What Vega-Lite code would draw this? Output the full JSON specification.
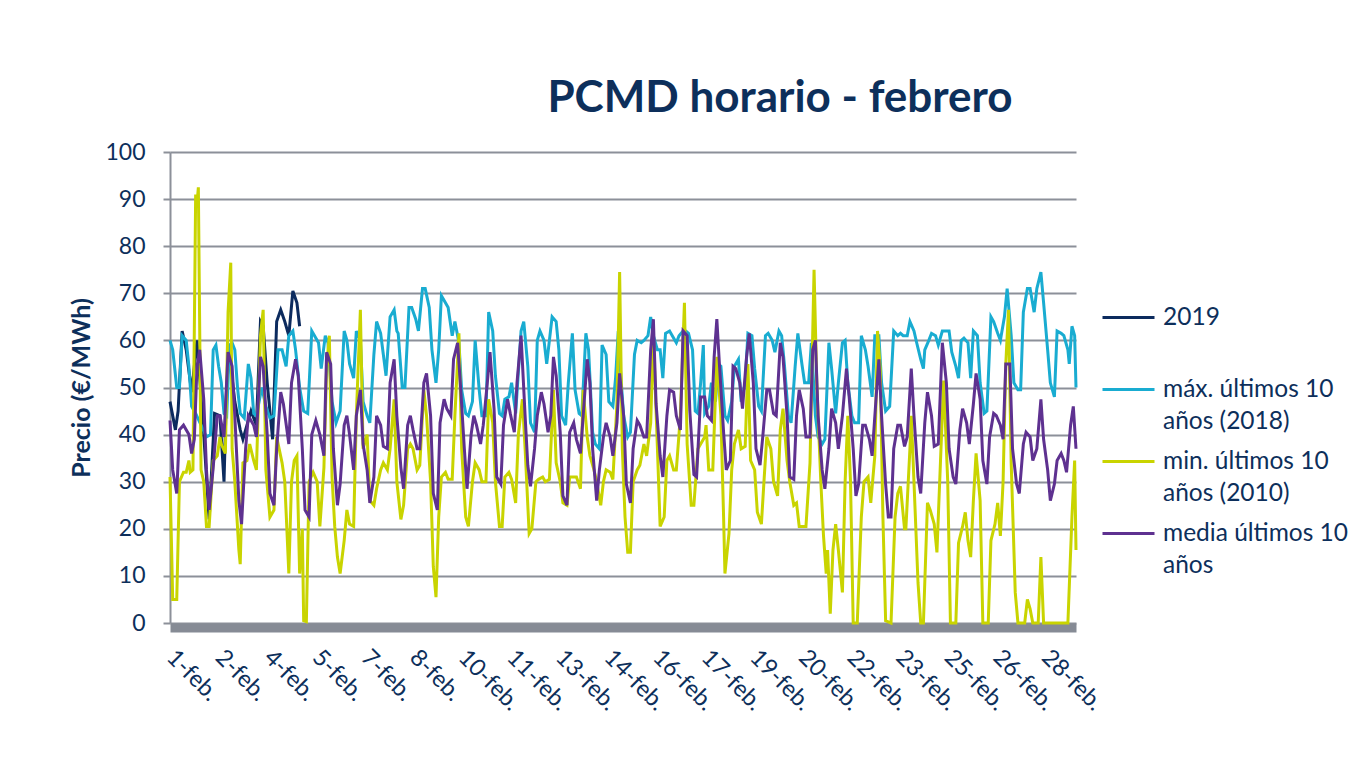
{
"$schema":"https://vega.github.io/schema/vega-lite/v6.json",
"width":906,"height":471,
"autosize":{"type":"none"},
"padding":{"left":170,"top":152,"right":286,"bottom":146},
"background":"#ffffff",
"config":{"font":"Lato","view":{"stroke":null}},
"title":{"text":"PCMD horario - febrero","fontSize":44,"fontWeight":"bold","color":"#0d2f5b","anchor":"middle","frame":"group","dx":157,"dy":41,"offset":26,"baseline":"alphabetic"},
"datasets":{
"y2019":[{"h":0,"v":47},{"h":4,"v":41},{"h":6,"v":45},{"h":9,"v":62},{"h":12,"v":58},{"h":16,"v":49},{"h":20,"v":60},{"h":25,"v":40},{"h":29,"v":22},{"h":33,"v":44.5},{"h":37,"v":44},{"h":40,"v":30},{"h":42,"v":51},{"h":44,"v":57},{"h":48,"v":47},{"h":52,"v":41},{"h":54,"v":39},{"h":57,"v":42},{"h":60,"v":45},{"h":64,"v":42},{"h":67,"v":64},{"h":69,"v":63},{"h":72,"v":51},{"h":76,"v":39},{"h":79,"v":64},{"h":82,"v":66.5},{"h":85,"v":64},{"h":88,"v":61},{"h":91,"v":70.5},{"h":94,"v":68},{"h":96,"v":63}],
"max":[{"h":0,"v":60},{"h":2,"v":58},{"h":5,"v":50},{"h":7,"v":50},{"h":9,"v":61},{"h":12,"v":60},{"h":14,"v":54.5},{"h":16,"v":46},{"h":19,"v":44.5},{"h":23,"v":42},{"h":27,"v":39.5},{"h":30,"v":40},{"h":32,"v":58},{"h":34,"v":59},{"h":36,"v":54.5},{"h":38,"v":51},{"h":40,"v":44.5},{"h":42,"v":44},{"h":44,"v":59},{"h":46,"v":59.5},{"h":48,"v":58},{"h":50,"v":50},{"h":52,"v":44.5},{"h":55,"v":43.5},{"h":58,"v":55},{"h":60,"v":52},{"h":62,"v":44.5},{"h":64,"v":44},{"h":68,"v":50},{"h":71,"v":46},{"h":74,"v":43.5},{"h":77,"v":44},{"h":80,"v":58},{"h":83,"v":58},{"h":86,"v":54.5},{"h":88,"v":61},{"h":91,"v":62},{"h":93,"v":58},{"h":96,"v":50},{"h":99,"v":45},{"h":102,"v":44.5},{"h":105,"v":62},{"h":110,"v":59.5},{"h":112,"v":54},{"h":115,"v":61},{"h":117,"v":59.5},{"h":120,"v":47},{"h":123,"v":42.5},{"h":126,"v":45},{"h":129,"v":62},{"h":131,"v":60},{"h":133,"v":55},{"h":136,"v":52},{"h":138,"v":62},{"h":141,"v":60},{"h":143,"v":47},{"h":146,"v":44},{"h":148,"v":42.5},{"h":151,"v":57},{"h":153,"v":64},{"h":156,"v":61.5},{"h":158,"v":57},{"h":160,"v":52.5},{"h":163,"v":65},{"h":166,"v":66.5},{"h":168,"v":62},{"h":169,"v":61.5},{"h":172,"v":50},{"h":174,"v":50},{"h":177,"v":67},{"h":179,"v":67},{"h":182,"v":64.5},{"h":184,"v":62},{"h":187,"v":71},{"h":189,"v":71},{"h":192,"v":67},{"h":194,"v":58},{"h":197,"v":51},{"h":199,"v":58},{"h":201,"v":69.5},{"h":204,"v":68},{"h":206,"v":67},{"h":209,"v":61},{"h":211,"v":64},{"h":214,"v":59.5},{"h":216,"v":49.5},{"h":219,"v":44.5},{"h":221,"v":44},{"h":224,"v":47},{"h":226,"v":60},{"h":229,"v":49.5},{"h":231,"v":44},{"h":234,"v":44},{"h":236,"v":66},{"h":239,"v":62},{"h":241,"v":52.5},{"h":244,"v":44.5},{"h":246,"v":44},{"h":248,"v":47.5},{"h":251,"v":48},{"h":253,"v":51},{"h":256,"v":44.5},{"h":260,"v":62},{"h":262,"v":64},{"h":265,"v":54.5},{"h":267,"v":42.5},{"h":270,"v":40.5},{"h":272,"v":60},{"h":274,"v":62},{"h":277,"v":60},{"h":279,"v":55},{"h":283,"v":65},{"h":286,"v":64},{"h":288,"v":58},{"h":290,"v":44},{"h":293,"v":42},{"h":295,"v":51},{"h":298,"v":61.5},{"h":300,"v":49.5},{"h":303,"v":44.5},{"h":305,"v":44},{"h":308,"v":61.5},{"h":310,"v":58},{"h":313,"v":40.5},{"h":315,"v":38},{"h":318,"v":37},{"h":320,"v":59},{"h":323,"v":57},{"h":325,"v":47},{"h":328,"v":46},{"h":330,"v":52},{"h":332,"v":62},{"h":334,"v":52},{"h":336,"v":44},{"h":339,"v":39.5},{"h":341,"v":40.5},{"h":344,"v":57},{"h":346,"v":60},{"h":349,"v":59.5},{"h":351,"v":60},{"h":354,"v":61},{"h":356,"v":65},{"h":358,"v":61},{"h":361,"v":58},{"h":363,"v":58},{"h":365,"v":52},{"h":367,"v":61.5},{"h":370,"v":62},{"h":372,"v":61},{"h":375,"v":59.5},{"h":377,"v":61},{"h":380,"v":62},{"h":382,"v":62},{"h":384,"v":61.5},{"h":387,"v":58},{"h":389,"v":45},{"h":391,"v":44.5},{"h":393,"v":51},{"h":395,"v":59},{"h":396,"v":44.5},{"h":399,"v":46},{"h":401,"v":51},{"h":404,"v":47},{"h":406,"v":55},{"h":408,"v":54.5},{"h":411,"v":44},{"h":413,"v":43},{"h":416,"v":47},{"h":418,"v":54.5},{"h":421,"v":56},{"h":423,"v":47},{"h":426,"v":51},{"h":428,"v":61.5},{"h":431,"v":61},{"h":433,"v":54},{"h":436,"v":46},{"h":438,"v":45},{"h":441,"v":61},{"h":443,"v":61.5},{"h":446,"v":60},{"h":448,"v":57.5},{"h":451,"v":62},{"h":453,"v":61},{"h":455,"v":55},{"h":458,"v":44},{"h":460,"v":42.5},{"h":463,"v":54.5},{"h":465,"v":61.5},{"h":468,"v":55},{"h":470,"v":51},{"h":473,"v":51},{"h":475,"v":59.5},{"h":478,"v":44},{"h":480,"v":39.5},{"h":483,"v":38},{"h":485,"v":39},{"h":488,"v":59.5},{"h":490,"v":54},{"h":493,"v":44.5},{"h":495,"v":51},{"h":498,"v":59.5},{"h":500,"v":60},{"h":502,"v":51},{"h":505,"v":44},{"h":507,"v":42.5},{"h":510,"v":42.5},{"h":512,"v":61},{"h":515,"v":58},{"h":517,"v":54.5},{"h":520,"v":48},{"h":522,"v":61},{"h":525,"v":61},{"h":527,"v":51},{"h":530,"v":45},{"h":533,"v":46},{"h":536,"v":62},{"h":539,"v":61},{"h":541,"v":61.5},{"h":543,"v":61},{"h":546,"v":61},{"h":548,"v":64},{"h":551,"v":62},{"h":553,"v":59.5},{"h":556,"v":56},{"h":558,"v":54},{"h":559,"v":58},{"h":562,"v":60},{"h":564,"v":61.5},{"h":567,"v":61},{"h":569,"v":59},{"h":572,"v":62},{"h":574,"v":62},{"h":577,"v":62},{"h":579,"v":57.5},{"h":582,"v":54.5},{"h":584,"v":52},{"h":586,"v":60},{"h":588,"v":60.5},{"h":591,"v":59.5},{"h":593,"v":52},{"h":595,"v":62},{"h":598,"v":61},{"h":600,"v":51},{"h":603,"v":44.5},{"h":605,"v":45},{"h":608,"v":65},{"h":610,"v":64},{"h":613,"v":61.5},{"h":615,"v":60},{"h":618,"v":65},{"h":620,"v":71},{"h":623,"v":61},{"h":625,"v":51},{"h":628,"v":49.5},{"h":630,"v":49.5},{"h":632,"v":66},{"h":635,"v":71},{"h":637,"v":71},{"h":640,"v":66},{"h":642,"v":71},{"h":645,"v":74.5},{"h":647,"v":68},{"h":650,"v":58},{"h":652,"v":51},{"h":655,"v":48},{"h":657,"v":62},{"h":660,"v":61.5},{"h":662,"v":61},{"h":665,"v":58},{"h":666,"v":55},{"h":668,"v":63},{"h":670,"v":61},{"h":671,"v":50}],
"min":[{"h":0,"v":31},{"h":2,"v":5},{"h":5,"v":5},{"h":7,"v":30},{"h":10,"v":32},{"h":12,"v":32},{"h":14,"v":34.5},{"h":15,"v":32},{"h":17,"v":32.5},{"h":19,"v":91},{"h":20,"v":89},{"h":21,"v":92.5},{"h":23,"v":32.5},{"h":25,"v":30},{"h":27,"v":20.5},{"h":29,"v":20.5},{"h":32,"v":34.5},{"h":35,"v":35.5},{"h":37,"v":39.5},{"h":38,"v":38},{"h":41,"v":36},{"h":43,"v":66},{"h":45,"v":76.5},{"h":46,"v":37},{"h":48,"v":30},{"h":51,"v":15.5},{"h":52,"v":12.5},{"h":54,"v":34},{"h":57,"v":34.5},{"h":59,"v":38},{"h":62,"v":34.5},{"h":64,"v":32.5},{"h":67,"v":61},{"h":69,"v":66.5},{"h":71,"v":32.5},{"h":74,"v":22.5},{"h":77,"v":24},{"h":79,"v":39.5},{"h":83,"v":34},{"h":85,"v":30},{"h":88,"v":10.5},{"h":90,"v":30},{"h":92,"v":34.5},{"h":94,"v":35.5},{"h":96,"v":10.5},{"h":98,"v":20},{"h":99,"v":0.5},{"h":101,"v":0.3},{"h":103,"v":30},{"h":106,"v":32},{"h":109,"v":30},{"h":111,"v":20.5},{"h":114,"v":33},{"h":116,"v":54.5},{"h":118,"v":61},{"h":120,"v":31},{"h":122,"v":20.5},{"h":124,"v":14},{"h":126,"v":10.5},{"h":129,"v":17.5},{"h":131,"v":24},{"h":133,"v":21},{"h":136,"v":20.5},{"h":138,"v":44},{"h":141,"v":66.5},{"h":143,"v":37},{"h":146,"v":40},{"h":148,"v":26},{"h":151,"v":25},{"h":153,"v":28.5},{"h":156,"v":32.5},{"h":158,"v":34},{"h":161,"v":32.5},{"h":163,"v":37},{"h":166,"v":47.5},{"h":168,"v":30},{"h":171,"v":22},{"h":173,"v":25},{"h":176,"v":37},{"h":178,"v":38},{"h":180,"v":37},{"h":183,"v":32.5},{"h":185,"v":33.5},{"h":188,"v":49.5},{"h":190,"v":44},{"h":193,"v":30},{"h":195,"v":12},{"h":197,"v":5.5},{"h":199,"v":22.5},{"h":201,"v":31},{"h":204,"v":32},{"h":206,"v":30.5},{"h":209,"v":30.5},{"h":211,"v":44},{"h":214,"v":61.5},{"h":216,"v":37},{"h":219,"v":22.5},{"h":221,"v":20.5},{"h":224,"v":30},{"h":226,"v":34},{"h":229,"v":32.5},{"h":231,"v":30},{"h":234,"v":30},{"h":236,"v":47.5},{"h":239,"v":42.5},{"h":241,"v":30},{"h":244,"v":20.5},{"h":246,"v":20.5},{"h":248,"v":31},{"h":251,"v":32},{"h":253,"v":30.5},{"h":256,"v":25.5},{"h":258,"v":40},{"h":261,"v":47.5},{"h":263,"v":37},{"h":266,"v":19},{"h":268,"v":20},{"h":271,"v":30},{"h":273,"v":30.5},{"h":276,"v":31},{"h":278,"v":30},{"h":281,"v":30.5},{"h":284,"v":49.5},{"h":286,"v":34},{"h":289,"v":30},{"h":291,"v":25.5},{"h":294,"v":25},{"h":296,"v":31},{"h":299,"v":31},{"h":301,"v":31},{"h":304,"v":28.5},{"h":306,"v":49.5},{"h":309,"v":39.5},{"h":311,"v":35.5},{"h":314,"v":32.5},{"h":316,"v":30},{"h":319,"v":25},{"h":321,"v":30},{"h":323,"v":32.5},{"h":326,"v":32},{"h":328,"v":30.5},{"h":331,"v":46.5},{"h":333,"v":74.5},{"h":335,"v":37},{"h":337,"v":22.5},{"h":339,"v":15},{"h":341,"v":15},{"h":343,"v":30},{"h":346,"v":32.5},{"h":348,"v":33.5},{"h":351,"v":38},{"h":353,"v":35.5},{"h":356,"v":42.5},{"h":358,"v":61},{"h":361,"v":37},{"h":363,"v":20.5},{"h":366,"v":22.5},{"h":368,"v":34.5},{"h":370,"v":35.5},{"h":373,"v":32.5},{"h":375,"v":32.5},{"h":378,"v":44},{"h":381,"v":68},{"h":383,"v":38},{"h":386,"v":25},{"h":388,"v":25},{"h":391,"v":37},{"h":393,"v":38},{"h":396,"v":39.5},{"h":397,"v":42},{"h":399,"v":32.5},{"h":402,"v":32.5},{"h":405,"v":56.5},{"h":408,"v":44},{"h":410,"v":22.5},{"h":411,"v":10.5},{"h":414,"v":19},{"h":416,"v":32.5},{"h":418,"v":38},{"h":421,"v":41},{"h":423,"v":37},{"h":426,"v":37.5},{"h":428,"v":55},{"h":430,"v":34.5},{"h":433,"v":32.5},{"h":435,"v":23.5},{"h":438,"v":21},{"h":440,"v":30.5},{"h":442,"v":39.5},{"h":445,"v":37},{"h":447,"v":30},{"h":450,"v":27},{"h":452,"v":41},{"h":454,"v":45.5},{"h":457,"v":34.5},{"h":459,"v":30},{"h":462,"v":25},{"h":464,"v":25.5},{"h":466,"v":20.5},{"h":469,"v":20.5},{"h":471,"v":20.5},{"h":474,"v":34},{"h":477,"v":75},{"h":479,"v":51},{"h":482,"v":30},{"h":484,"v":18.5},{"h":486,"v":10.5},{"h":487,"v":15.5},{"h":489,"v":2},{"h":491,"v":15.5},{"h":493,"v":21},{"h":495,"v":15.5},{"h":498,"v":6.5},{"h":500,"v":30},{"h":502,"v":44},{"h":504,"v":30},{"h":506,"v":0},{"h":509,"v":0},{"h":512,"v":22.5},{"h":514,"v":30},{"h":517,"v":31},{"h":519,"v":25.5},{"h":522,"v":35.5},{"h":524,"v":62},{"h":526,"v":54},{"h":528,"v":22.5},{"h":530,"v":0.5},{"h":534,"v":0},{"h":537,"v":22.5},{"h":539,"v":27.5},{"h":541,"v":29},{"h":544,"v":20},{"h":545,"v":20},{"h":548,"v":37},{"h":549,"v":44},{"h":551,"v":30},{"h":554,"v":8.5},{"h":556,"v":0},{"h":558,"v":0},{"h":561,"v":25.5},{"h":563,"v":24},{"h":566,"v":21},{"h":568,"v":15},{"h":571,"v":37},{"h":573,"v":51.5},{"h":576,"v":30},{"h":578,"v":0},{"h":582,"v":0},{"h":584,"v":17},{"h":587,"v":20.5},{"h":589,"v":23.5},{"h":591,"v":17.5},{"h":593,"v":14},{"h":595,"v":26},{"h":597,"v":36},{"h":600,"v":26},{"h":602,"v":0},{"h":606,"v":0},{"h":608,"v":17.5},{"h":611,"v":21},{"h":613,"v":25.5},{"h":615,"v":18.5},{"h":617,"v":30},{"h":619,"v":55},{"h":621,"v":66.5},{"h":623,"v":34},{"h":626,"v":6.5},{"h":628,"v":0},{"h":633,"v":0},{"h":635,"v":5},{"h":637,"v":3},{"h":639,"v":0},{"h":643,"v":0},{"h":645,"v":14},{"h":647,"v":0},{"h":665,"v":0},{"h":668,"v":22.5},{"h":670,"v":34.5},{"h":671,"v":15.5}],
"media":[{"h":0,"v":43},{"h":2,"v":32.5},{"h":5,"v":27.5},{"h":7,"v":41},{"h":10,"v":42},{"h":14,"v":40},{"h":16,"v":36},{"h":18,"v":39},{"h":20,"v":54.5},{"h":22,"v":58},{"h":25,"v":47.5},{"h":27,"v":32.5},{"h":29,"v":24},{"h":32,"v":33},{"h":35,"v":44},{"h":37,"v":44},{"h":40,"v":39.5},{"h":43,"v":57.5},{"h":46,"v":54.5},{"h":48,"v":44},{"h":51,"v":26},{"h":53,"v":21},{"h":56,"v":37},{"h":58,"v":44},{"h":62,"v":42},{"h":64,"v":39.5},{"h":67,"v":56.5},{"h":69,"v":54.5},{"h":72,"v":40},{"h":74,"v":27.5},{"h":77,"v":25},{"h":79,"v":37},{"h":82,"v":49},{"h":84,"v":46.5},{"h":88,"v":38},{"h":90,"v":51},{"h":93,"v":56},{"h":95,"v":52.5},{"h":98,"v":37},{"h":100,"v":24},{"h":103,"v":22.5},{"h":105,"v":40},{"h":108,"v":43},{"h":111,"v":40},{"h":114,"v":35.5},{"h":116,"v":57.5},{"h":119,"v":55},{"h":121,"v":37},{"h":124,"v":25},{"h":126,"v":29.5},{"h":129,"v":42},{"h":131,"v":44},{"h":133,"v":40},{"h":136,"v":32.5},{"h":138,"v":44},{"h":141,"v":49.5},{"h":143,"v":38},{"h":146,"v":32.5},{"h":148,"v":25.5},{"h":151,"v":31},{"h":153,"v":44},{"h":156,"v":42},{"h":158,"v":37.5},{"h":161,"v":37},{"h":163,"v":51},{"h":166,"v":56},{"h":168,"v":44},{"h":171,"v":33},{"h":173,"v":28.5},{"h":176,"v":42},{"h":178,"v":44},{"h":180,"v":41},{"h":183,"v":37},{"h":185,"v":37},{"h":188,"v":51},{"h":190,"v":53},{"h":193,"v":44},{"h":195,"v":27.5},{"h":198,"v":24},{"h":200,"v":42.5},{"h":203,"v":47.5},{"h":205,"v":45.5},{"h":208,"v":44},{"h":210,"v":56},{"h":213,"v":59.5},{"h":215,"v":51},{"h":218,"v":37},{"h":220,"v":28.5},{"h":223,"v":40},{"h":225,"v":44},{"h":227,"v":42},{"h":230,"v":38},{"h":232,"v":42},{"h":235,"v":51},{"h":237,"v":57.5},{"h":240,"v":45.5},{"h":242,"v":31},{"h":245,"v":29.5},{"h":247,"v":42},{"h":250,"v":47.5},{"h":252,"v":44.5},{"h":255,"v":40.5},{"h":257,"v":51},{"h":260,"v":61},{"h":263,"v":44},{"h":265,"v":33.5},{"h":267,"v":29},{"h":270,"v":37},{"h":272,"v":44},{"h":275,"v":49},{"h":277,"v":46.5},{"h":280,"v":40.5},{"h":282,"v":44},{"h":284,"v":56.5},{"h":286,"v":52.5},{"h":289,"v":40.5},{"h":291,"v":27},{"h":294,"v":25},{"h":296,"v":40.5},{"h":299,"v":42.5},{"h":301,"v":39},{"h":304,"v":36},{"h":306,"v":44},{"h":309,"v":56},{"h":311,"v":51},{"h":313,"v":37},{"h":316,"v":26},{"h":318,"v":32.5},{"h":321,"v":39.5},{"h":323,"v":42.5},{"h":326,"v":39.5},{"h":328,"v":35.5},{"h":331,"v":42.5},{"h":333,"v":53},{"h":336,"v":44},{"h":338,"v":29.5},{"h":341,"v":25.5},{"h":343,"v":37},{"h":346,"v":43},{"h":348,"v":42},{"h":351,"v":39.5},{"h":353,"v":39.5},{"h":356,"v":58},{"h":358,"v":64.5},{"h":360,"v":46.5},{"h":363,"v":35.5},{"h":365,"v":31},{"h":368,"v":44},{"h":370,"v":49.5},{"h":373,"v":49},{"h":375,"v":44},{"h":378,"v":41},{"h":380,"v":62},{"h":383,"v":61},{"h":385,"v":45},{"h":388,"v":31.5},{"h":390,"v":31},{"h":393,"v":48},{"h":396,"v":48},{"h":398,"v":44},{"h":401,"v":43},{"h":403,"v":56.5},{"h":405,"v":64.5},{"h":407,"v":54.5},{"h":410,"v":40.5},{"h":412,"v":32.5},{"h":415,"v":34.5},{"h":417,"v":54.5},{"h":419,"v":54},{"h":422,"v":51},{"h":424,"v":45.5},{"h":427,"v":56.5},{"h":429,"v":61.5},{"h":432,"v":51},{"h":434,"v":37},{"h":437,"v":33.5},{"h":439,"v":39.5},{"h":442,"v":49.5},{"h":444,"v":49.5},{"h":447,"v":44.5},{"h":449,"v":44},{"h":452,"v":59.5},{"h":454,"v":56.5},{"h":457,"v":44},{"h":459,"v":31},{"h":462,"v":30.5},{"h":464,"v":44},{"h":466,"v":49.5},{"h":469,"v":45.5},{"h":471,"v":39.5},{"h":474,"v":39.5},{"h":476,"v":58},{"h":478,"v":60},{"h":480,"v":44},{"h":483,"v":32.5},{"h":485,"v":28.5},{"h":488,"v":37},{"h":490,"v":45.5},{"h":493,"v":42.5},{"h":495,"v":37},{"h":498,"v":44},{"h":501,"v":54},{"h":503,"v":48},{"h":506,"v":37},{"h":508,"v":27},{"h":510,"v":29.5},{"h":513,"v":42},{"h":515,"v":42},{"h":518,"v":39},{"h":520,"v":35.5},{"h":523,"v":48},{"h":525,"v":56},{"h":527,"v":44},{"h":530,"v":29.5},{"h":532,"v":22.5},{"h":534,"v":22.5},{"h":536,"v":37},{"h":539,"v":42},{"h":541,"v":42},{"h":544,"v":37.5},{"h":546,"v":39.5},{"h":549,"v":54},{"h":551,"v":44},{"h":554,"v":31},{"h":556,"v":27.5},{"h":559,"v":42.5},{"h":561,"v":49},{"h":564,"v":44},{"h":566,"v":37.5},{"h":569,"v":38},{"h":572,"v":59.5},{"h":575,"v":51},{"h":577,"v":37},{"h":580,"v":31},{"h":582,"v":29.5},{"h":585,"v":41},{"h":587,"v":45.5},{"h":590,"v":42.5},{"h":592,"v":38},{"h":595,"v":46.5},{"h":597,"v":53},{"h":600,"v":47.5},{"h":602,"v":34.5},{"h":605,"v":29.5},{"h":607,"v":39.5},{"h":610,"v":44.5},{"h":612,"v":44},{"h":615,"v":42},{"h":617,"v":39},{"h":619,"v":55},{"h":622,"v":55},{"h":624,"v":37},{"h":627,"v":29.5},{"h":629,"v":27.5},{"h":632,"v":38},{"h":634,"v":40.5},{"h":637,"v":39.5},{"h":639,"v":34.5},{"h":642,"v":37},{"h":645,"v":47.5},{"h":647,"v":39},{"h":650,"v":32.5},{"h":652,"v":26},{"h":655,"v":29.5},{"h":657,"v":34.5},{"h":660,"v":36},{"h":662,"v":34.5},{"h":664,"v":32},{"h":667,"v":42},{"h":669,"v":46},{"h":671,"v":37}]
},
"encoding":{
"x":{"field":"h","type":"quantitative","scale":{"domain":[0,671],"nice":false,"zero":false},
 "axis":{"title":null,"values":[0,36,72,108,144,180,216,252,288,324,360,396,432,468,504,540,576,612,648],"labelExpr":"floor(datum.value/24)+1 + '-feb.'","grid":false,"ticks":false,"tickSize":0,"domain":true,"domainColor":"#868b95","domainWidth":9,"offset":4.5,"labelAngle":45,"labelAlign":"left","labelBaseline":"middle","labelPadding":26,"labelFontSize":23.5,"labelColor":"#0d2f5b","labelFont":"Lato","labelOverlap":false,"labelFlush":false}},
"y":{"field":"v","type":"quantitative","scale":{"domain":[0,100],"nice":false},
 "axis":{"title":"Precio (€/MWh)","titleFontSize":25,"titleFontWeight":"bold","titleColor":"#0d2f5b","titleFont":"Lato","titlePadding":10,"values":[0,10,20,30,40,50,60,70,80,90,100],"grid":true,"gridColor":"#8c9099","gridWidth":2,"domain":true,"domainColor":"#8c9099","domainWidth":2,"ticks":true,"tickSize":7,"tickColor":"#8c9099","tickWidth":2,"labelFontSize":23,"labelColor":"#0d2f5b","labelFont":"Lato","labelPadding":18}}
},
"layer":[
{"data":{"name":"y2019"},"mark":{"type":"line","strokeWidth":3},
 "encoding":{"color":{"datum":"2019","type":"nominal",
  "scale":{"domain":["2019","máx. últimos 10 años (2018)","min. últimos 10 años (2010)","media últimos 10 años"],"range":["#0c2b5e","#19acd1","#c9d400","#5e3190"]},
  "legend":{"title":null,"orient":"none","legendX":931,"legendY":138,"padding":0,"symbolType":"stroke","symbolSize":2704,"symbolStrokeWidth":3,"labelOffset":7,"labelFontSize":24.5,"labelFont":"Lato","labelColor":"#0d2f5b","labelLimit":400,"rowPadding":1,"labelBaseline":"middle",
   "labelExpr":"datum.label == '2019' ? ['2019', ''] : [slice(datum.label, 0, indexof(datum.label, '10') + 2), slice(datum.label, indexof(datum.label, '10') + 3)]",
   "encode":{"labels":{"update":{"lineHeight":{"value":32}}}}}}}},
{"data":{"name":"max"},"mark":{"type":"line","strokeWidth":3},"encoding":{"color":{"datum":"máx. últimos 10 años (2018)","type":"nominal"}}},
{"data":{"name":"min"},"mark":{"type":"line","strokeWidth":3},"encoding":{"color":{"datum":"min. últimos 10 años (2010)","type":"nominal"}}},
{"data":{"name":"media"},"mark":{"type":"line","strokeWidth":3},"encoding":{"color":{"datum":"media últimos 10 años","type":"nominal"}}}
]
}
